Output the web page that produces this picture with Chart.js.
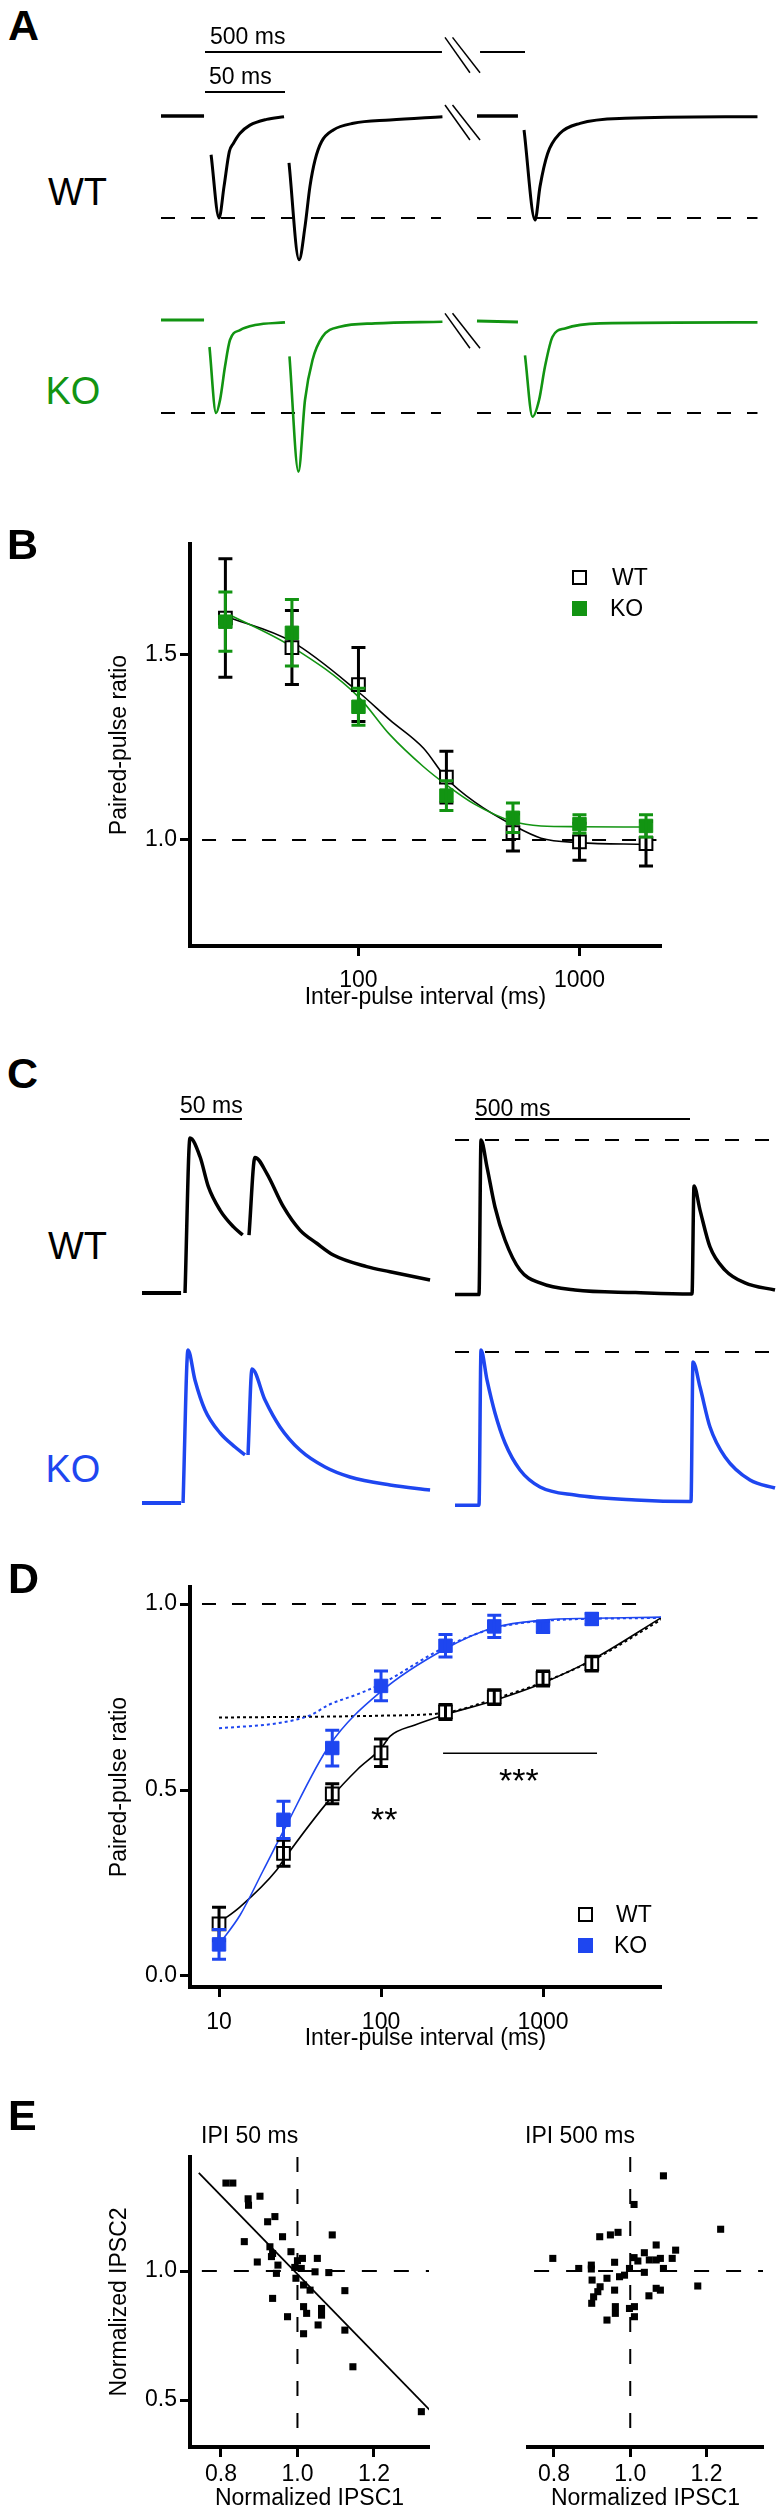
<!DOCTYPE html>
<html>
<head>
<meta charset="utf-8">
<script src="https://cdn.jsdelivr.net/npm/chart.js@4.4.1/dist/chart.umd.min.js"></script>
<style>
  body { margin: 0; background: #fff; }
  #page { position: relative; width: 780px; height: 2515px; overflow: hidden; background: #fff;
          font-family: 'Liberation Sans', Arial, sans-serif; color: #000; }
  canvas { position: absolute; }
  .t { position: absolute; line-height: 1; white-space: nowrap; }
  .sq { position: absolute; box-sizing: border-box; }
</style>
</head>
<body>
<div id="page">
  <canvas id="aWt" width="620" height="265" style="left:150px;top:20px"></canvas>
  <canvas id="aKo" width="620" height="200" style="left:150px;top:290px"></canvas>
  <canvas id="bPlot" width="780" height="500" style="left:0;top:520px"></canvas>
  <canvas id="cWtL" width="310" height="215" style="left:130px;top:1090px"></canvas>
  <canvas id="cWtR" width="335" height="215" style="left:445px;top:1090px"></canvas>
  <canvas id="cKoL" width="310" height="185" style="left:130px;top:1330px"></canvas>
  <canvas id="cKoR" width="335" height="185" style="left:445px;top:1330px"></canvas>
  <canvas id="dPlot" width="780" height="500" style="left:0;top:1560px"></canvas>
  <canvas id="eL" width="440" height="395" style="left:0;top:2120px"></canvas>
  <canvas id="eR" width="340" height="395" style="left:440px;top:2120px"></canvas>
</div>
<script>
"use strict";

var FONT = "'Liberation Sans', Arial, sans-serif";
var GREEN = '#129412';
var BLUE = '#1e46f0';

// ---- A: IPSC traces, [time ms (axis broken at ~185), current / first peak] ----
var aWtBase1 = [[0, 0], [26.9, 0]];
var aWtPulse1 = [[31.3, -0.38], [36.3, -1.0], [39.4, -0.69], [42.7, -0.35], [45.2, -0.27], [49.4, -0.17], [55.6, -0.09], [66, -0.033], [76.9, -0.007]];
var aWtPulse2 = [[80, -0.46], [86.3, -1.41], [90, -1.085], [93.1, -0.69], [96.3, -0.43], [100.4, -0.25], [107.7, -0.137], [120.2, -0.072], [143.1, -0.039], [175.9, -0.007]];
var aWtBase2 = [[197.5, 0], [223.1, 0]];
var aWtPulse3 = [[226.9, -0.137], [233.8, -1.02], [236.9, -0.69], [241.6, -0.37], [249.4, -0.17], [261.9, -0.072], [290, -0.023], [372.8, -0.007]];

var aKoBase1 = [[0, 0], [26.9, 0]];
var aKoPulse1 = [[30.3, -0.29], [34.4, -1.0], [36.9, -0.86], [40, -0.5], [43.1, -0.215], [49.4, -0.108], [58.8, -0.054], [77.5, -0.025]];
var aKoPulse2 = [[80.3, -0.39], [85.9, -1.63], [90, -0.86], [94.7, -0.43], [100.9, -0.18], [111.9, -0.072], [133.8, -0.036], [175.9, -0.018]];
var aKoBase2 = [[197.5, -0.01], [223.1, -0.02]];
var aKoPulse3 = [[227.5, -0.38], [232.2, -1.04], [236.3, -0.86], [240, -0.5], [244.7, -0.18], [252.5, -0.09], [274.4, -0.036], [372.8, -0.025]];

// ---- B: paired-pulse ratio ----
var ipiB = [25, 50, 100, 250, 500, 1000, 2000];
var wtB = [1.60, 1.52, 1.42, 1.17, 1.02, 0.995, 0.99];
var wtBErr = [0.16, 0.10, 0.10, 0.07, 0.05, 0.05, 0.06];
var koB = [1.59, 1.56, 1.36, 1.12, 1.06, 1.043, 1.038];
var koBErr = [0.08, 0.09, 0.05, 0.04, 0.04, 0.025, 0.03];
var fitBX = [25, 50, 100, 139, 197, 250, 335, 500, 670, 1000, 2000];
var wtBFit = [1.605, 1.536, 1.40, 1.324, 1.248, 1.167, 1.103, 1.04, 1.005, 0.993, 0.988];
var koBFit = [1.614, 1.522, 1.387, 1.284, 1.198, 1.149, 1.097, 1.05, 1.038, 1.036, 1.035];

// ---- C: IPSC traces, [time ms, current / first peak] ----
var cWtLBase = [[0, 0], [31.5, 0]];
var cWtL1 = [[34.7, 0], [38.7, 1.0], [46.8, 0.879], [53.5, 0.686], [62.9, 0.535], [73.6, 0.428], [81.2, 0.374]];
var cWtL2 = [[86.3, 0.374], [91.1, 0.875], [100.6, 0.772], [114, 0.557], [127.4, 0.406], [140.9, 0.321], [154.3, 0.245], [181.2, 0.17], [200, 0.137], [232.3, 0.084]];
var cWtR = [[0, -0.01], [53.5, -0.01], [55.8, -0.01], [60.5, 0.987], [74.4, 0.813], [93, 0.555], [116.3, 0.342], [151.2, 0.148], [197.7, 0.065], [279, 0.019], [420, 0.003], [548, -0.006], [551.2, -0.006], [555.8, 0.69], [569.8, 0.535], [593, 0.297], [628, 0.148], [674.4, 0.065], [744.2, 0.019]];
var cKoLBase = [[0, 0], [31.5, 0]];
var cKoL1 = [[33.1, 0], [37.1, 1.0], [42.7, 0.804], [50.8, 0.608], [62.9, 0.458], [75, 0.366], [83.1, 0.314]];
var cKoL2 = [[85.5, 0.314], [88.7, 0.876], [99.2, 0.673], [111.3, 0.497], [127.4, 0.346], [147.6, 0.235], [167.7, 0.17], [200, 0.118], [232.3, 0.085]];
var cKoR = [[0, -0.015], [53.5, -0.015], [55.8, -0.015], [60.5, 1.0], [74.4, 0.804], [93, 0.588], [116.3, 0.392], [151.2, 0.216], [197.7, 0.105], [279, 0.052], [420, 0.02], [546.5, 0.01], [548.8, 0.01], [553.5, 0.922], [569.8, 0.758], [593, 0.497], [628, 0.301], [686, 0.15], [744.2, 0.098]];

// ---- D: paired-pulse ratio ----
var ipiD = [10, 25, 50, 100, 250, 500, 1000, 2000];
var wtD = [0.14, 0.33, 0.49, 0.60, 0.71, 0.75, 0.80, 0.84];
var wtDErr = [0.045, 0.035, 0.027, 0.037, 0.02, 0.02, 0.02, 0.02];
var koD = [0.085, 0.42, 0.613, 0.78, 0.888, 0.94, 0.939, 0.96];
var koDErr = [0.04, 0.05, 0.048, 0.04, 0.03, 0.03, 0.015, 0.015];
var wtDFitX = [10, 13.5, 22.7, 25, 50, 71, 100, 114, 162, 250, 500, 1000, 2000, 5348];
var wtDFit = [0.143, 0.186, 0.285, 0.312, 0.483, 0.554, 0.612, 0.645, 0.675, 0.703, 0.741, 0.788, 0.85, 0.963];
var koDFitX = [10, 13.5, 18.8, 25, 48, 100, 250, 500, 1000, 2000, 5348];
var koDFit = [0.085, 0.164, 0.285, 0.39, 0.62, 0.765, 0.88, 0.937, 0.957, 0.962, 0.965];
var wtDDotX = [10, 100, 250, 500, 1000, 2000, 5348];
var wtDDot = [0.695, 0.70, 0.708, 0.745, 0.79, 0.848, 0.958];
var koDDotX = [10, 24, 37, 47, 74, 100, 250, 500, 1000, 5348];
var koDDot = [0.666, 0.681, 0.702, 0.728, 0.76, 0.785, 0.885, 0.935, 0.955, 0.963];

// ---- E: normalized IPSC2 vs IPSC1 ----
var e50x = [0.813, 0.831, 0.871, 0.872, 0.902, 0.941, 0.922, 0.961, 0.861, 1.091, 0.928, 0.935, 0.932, 0.895, 0.983, 0.949, 0.945, 0.993, 1.013, 1.01, 1.052, 1.046, 1.082, 0.996, 1.016, 1.033, 1.124, 0.935, 1.016, 1.024, 1.063, 1.063, 0.974, 1.054, 1.016, 1.124, 1.145, 1.324, 1.0];
var e50y = [1.341, 1.341, 1.28, 1.255, 1.29, 1.211, 1.191, 1.133, 1.114, 1.14, 1.094, 1.068, 1.056, 1.035, 1.075, 1.023, 0.991, 1.014, 1.049, 1.01, 1.049, 0.997, 0.994, 0.972, 0.946, 0.926, 0.924, 0.894, 0.862, 0.836, 0.855, 0.829, 0.823, 0.791, 0.757, 0.771, 0.629, 0.455, 1.04];
var e50FitX = [0.742, 1.346];
var e50FitY = [1.38, 0.461];
var e500x = [1.087, 1.01, 1.237, 0.92, 0.948, 0.968, 0.797, 0.865, 0.898, 0.898, 0.959, 1.01, 1.02, 1.037, 1.068, 1.119, 1.11, 1.05, 1.068, 1.079, 1.087, 1.037, 0.998, 0.985, 0.972, 0.9, 0.939, 0.921, 0.915, 0.959, 0.904, 0.899, 1.049, 1.068, 1.079, 1.177, 0.961, 0.961, 0.939, 0.998, 1.011, 1.011];
var e500y = [1.369, 1.258, 1.162, 1.133, 1.14, 1.15, 1.049, 1.01, 1.023, 1.008, 1.034, 1.052, 1.039, 1.071, 1.101, 1.081, 1.049, 1.043, 1.043, 1.049, 1.01, 0.995, 1.01, 0.984, 0.978, 0.965, 0.972, 0.939, 0.92, 0.926, 0.9, 0.875, 0.904, 0.933, 0.926, 0.942, 0.862, 0.836, 0.81, 0.855, 0.862, 0.823];

// tick labels
var bTicksX = [100, 1000];
var bTicksY = [1.0, 1.5];
var dTicksX = [10, 100, 1000];
var dTicksY = [0, 0.5, 1.0];
var eTicksX = [0.8, 1.0, 1.2];
var eTicksY = [0.5, 1.0];

// helpers
function pairs(p) { return p.map(function (q) { return {x: q[0], y: q[1]}; }); }
function pts(xs, ys) { return xs.map(function (x, i) { return {x: x, y: ys[i]}; }); }

function line(data, color, width, dash, smooth) {
    return {
        data: data, showLine: true, fill: false,
        borderColor: color, borderWidth: width, borderDash: dash || [],
        pointRadius: 0, pointHoverRadius: 0,
        cubicInterpolationMode: smooth ? 'monotone' : 'default'
    };
}

function marks(data, errs, color, fillColor, r, bw) {
    return {
        data: data, errors: errs, showLine: false,
        pointStyle: 'rect', pointRadius: r, pointHoverRadius: r,
        pointBackgroundColor: fillColor, pointBorderColor: color,
        pointBorderWidth: bw, borderColor: color
    };
}

// vertical error bars with caps, drawn with their dataset
var errorBars = {
    id: 'errorBars',
    afterDatasetDraw: function (chart, args) {
        var ds = chart.data.datasets[args.index];
        if (!ds.errors) return;
        var ctx = chart.ctx, xs = chart.scales.x, ys = chart.scales.y;
        ctx.save();
        ctx.strokeStyle = ds.pointBorderColor;
        ctx.lineWidth = 3;
        ds.data.forEach(function (p, i) {
            var px = xs.getPixelForValue(p.x);
            var top = ys.getPixelForValue(p.y + ds.errors[i]);
            var bot = ys.getPixelForValue(p.y - ds.errors[i]);
            ctx.beginPath();
            ctx.moveTo(px, top); ctx.lineTo(px, bot);
            ctx.moveTo(px - 7, top); ctx.lineTo(px + 7, top);
            ctx.moveTo(px - 7, bot); ctx.lineTo(px + 7, bot);
            ctx.stroke();
        });
        ctx.restore();
    }
};

function baseOptions(scales, padding) {
    return {
        responsive: false, animation: false, devicePixelRatio: 1, events: [],
        layout: {padding: padding},
        plugins: {legend: {display: false}, tooltip: {enabled: false}},
        scales: scales
    };
}

function traceChart(id, xr, yr, sets) {
    return new Chart(document.getElementById(id), {
        type: 'scatter',
        data: {datasets: sets},
        options: baseOptions({
            x: {type: 'linear', display: false, min: xr[0], max: xr[1]},
            y: {type: 'linear', display: false, min: yr[0], max: yr[1]}
        }, 0)
    });
}

function axisFont() { return {family: FONT, size: 23}; }
function fmt1(v) { return Number(v).toFixed(1); }
function fmtInt(v) { return String(v); }

function plotChart(id, o) {
    var scales = {
        x: {
            type: o.xType, min: o.xr[0], max: o.xr[1],
            afterFit: function (s) { s.height = o.xH; },
            afterBuildTicks: function (s) { s.ticks = o.xTicks.map(function (v) { return {value: v}; }); },
            border: {display: true, color: '#000', width: 4},
            grid: {drawOnChartArea: false, drawTicks: true, tickLength: 10, tickWidth: 3, tickColor: '#000'},
            ticks: {color: '#000', font: axisFont(), padding: o.xPad, maxRotation: 0, autoSkip: false, callback: o.xFmt},
            title: {display: true, text: o.xTitle, color: '#000', font: axisFont(), padding: {top: 0, bottom: o.xTitlePad}}
        }
    };
    if (o.yTitle) {
        scales.y = {
            type: 'linear', min: o.yr[0], max: o.yr[1],
            afterFit: function (s) { s.width = o.yW; },
            afterBuildTicks: function (s) { s.ticks = o.yTicks.map(function (v) { return {value: v}; }); },
            border: {display: true, color: '#000', width: 4},
            grid: {drawOnChartArea: false, drawTicks: true, tickLength: 10, tickWidth: 3, tickColor: '#000'},
            ticks: {color: '#000', font: axisFont(), padding: 3, autoSkip: false, callback: fmt1},
            title: {display: true, text: o.yTitle, color: '#000', font: axisFont(), padding: {top: 105.5, bottom: 0}}
        };
    } else {
        scales.y = {type: 'linear', display: false, min: o.yr[0], max: o.yr[1]};
    }
    return new Chart(document.getElementById(id), {
        type: 'scatter',
        data: {datasets: o.sets},
        options: baseOptions(scales, o.pad),
        plugins: [errorBars]
    });
}

// ---- panel A ----
var aDash = [14, 16];
traceChart('aWt', [-6.875, 380.625], [-1.657, 0.941], [
    line(pairs(aWtBase1), '#000', 3.5),
    line(pairs(aWtPulse1), '#000', 3, null, true),
    line(pairs(aWtPulse2), '#000', 3, null, true),
    line(pairs(aWtBase2), '#000', 3.5),
    line(pairs(aWtPulse3), '#000', 3, null, true),
    line(pairs([[0, -1], [175, -1]]), '#000', 2, aDash),
    line(pairs([[197.5, -1], [372.8, -1]]), '#000', 2, aDash),
    // scale bars: 50 ms and (broken) 500 ms
    line(pairs([[27.5, 0.235], [77.5, 0.235]]), '#000', 2),
    line(pairs([[27.5, 0.627], [175.6, 0.627]]), '#000', 2),
    line(pairs([[199.4, 0.627], [227.5, 0.627]]), '#000', 2),
    // axis break marks
    line(pairs([[177.5, 0.771], [193.1, 0.424]]), '#000', 1.5),
    line(pairs([[182.2, 0.771], [199.4, 0.424]]), '#000', 1.5),
    line(pairs([[177.5, 0.108], [193.1, -0.235]]), '#000', 1.5),
    line(pairs([[182.2, 0.108], [199.4, -0.235]]), '#000', 1.5)
]);
traceChart('aKo', [-6.875, 380.625], [-1.828, 0.323], [
    line(pairs(aKoBase1), GREEN, 3),
    line(pairs(aKoPulse1), GREEN, 2.6, null, true),
    line(pairs(aKoPulse2), GREEN, 2.6, null, true),
    line(pairs(aKoBase2), GREEN, 3),
    line(pairs(aKoPulse3), GREEN, 2.6, null, true),
    line(pairs([[0, -1], [175, -1]]), '#000', 2, aDash),
    line(pairs([[197.5, -1], [372.8, -1]]), '#000', 2, aDash),
    line(pairs([[177.5, 0.072], [193.1, -0.304]]), '#000', 1.5),
    line(pairs([[182.2, 0.072], [199.4, -0.304]]), '#000', 1.5)
]);

// ---- panel B ----
plotChart('bPlot', {
    xType: 'logarithmic', xr: [17.29, 2338], yr: [0.7135, 1.8],
    xTicks: bTicksX, yTicks: bTicksY, xFmt: fmtInt,
    xTitle: 'Inter-pulse interval (ms)', yTitle: 'Paired-pulse ratio',
    xH: 74, yW: 190, xPad: 11, xTitlePad: 9,
    pad: {left: 0, top: 24, right: 119, bottom: 0},
    sets: [
        marks(pts(ipiB, koB), koBErr, GREEN, GREEN, 9.5, 1),
        marks(pts(ipiB, wtB), wtBErr, '#000', '#fff', 9, 2),
        line(pts(fitBX, koBFit), GREEN, 1.6, null, true),
        line(pts(fitBX, wtBFit), '#000', 1.6, null, true),
        line(pts([19.6, 2230], [1, 1]), '#000', 2, [14, 16])
    ]
});

// ---- panel C ----
traceChart('cWtL', [-9.677, 240.32], [-0.0774, 1.3097], [
    line(pairs(cWtLBase), '#000', 4),
    line(pairs(cWtL1), '#000', 3.5, null, true),
    line(pairs(cWtL2), '#000', 3.5, null, true),
    line(pairs([[30.6, 1.123], [80.6, 1.123]]), '#000', 2)
]);
traceChart('cWtR', [-23.256, 755.81], [-0.0774, 1.3097], [
    line(pairs(cWtR), '#000', 3.5, null, true),
    line(pairs([[46.5, 1.123], [546.5, 1.123]]), '#000', 2),
    line(pairs([[0, 0.987], [748.8, 0.987]]), '#000', 2, [14, 16])
]);
traceChart('cKoL', [-9.677, 240.32], [-0.0784, 1.1307], [
    line(pairs(cKoLBase), BLUE, 4),
    line(pairs(cKoL1), BLUE, 3.5, null, true),
    line(pairs(cKoL2), BLUE, 3.5, null, true)
]);
traceChart('cKoR', [-23.256, 755.81], [-0.0784, 1.1307], [
    line(pairs(cKoR), BLUE, 3.5, null, true),
    line(pairs([[0, 0.987], [748.8, 0.987]]), '#000', 2, [14, 16])
]);

// ---- panel D ----
plotChart('dPlot', {
    xType: 'logarithmic', xr: [6.62, 5348], yr: [-0.0296, 1.046],
    xTicks: dTicksX, yTicks: dTicksY, xFmt: fmtInt,
    xTitle: 'Inter-pulse interval (ms)', yTitle: 'Paired-pulse ratio',
    xH: 73, yW: 190, xPad: 12, xTitlePad: 8,
    pad: {left: 0, top: 27, right: 119, bottom: 0},
    sets: [
        marks(pts(ipiD, koD), koDErr, BLUE, BLUE, 9.5, 1),
        marks(pts(ipiD, wtD), wtDErr, '#000', '#fff', 9, 2),
        line(pts(koDFitX, koDFit), BLUE, 1.6, null, true),
        line(pts(wtDFitX, wtDFit), '#000', 1.6, null, true),
        line(pts(koDDotX, koDDot), BLUE, 2, [3, 3], true),
        line(pts(wtDDotX, wtDDot), '#000', 2, [3, 3], true),
        line(pts([7.85, 4570], [1, 1]), '#000', 2, [14, 16]),
        line(pts([241.5, 2154], [0.599, 0.599]), '#000', 1.6)
    ]
});

// ---- panel E ----
plotChart('eL', {
    xType: 'linear', xr: [0.719, 1.344], yr: [0.318, 1.442],
    xTicks: eTicksX, yTicks: eTicksY, xFmt: fmt1,
    xTitle: 'Normalized IPSC1', yTitle: 'Normalized IPSC2',
    xH: 68, yW: 190, xPad: 4, xTitlePad: 3,
    pad: {left: 0, top: 37, right: 11, bottom: 0},
    sets: [
        marks(pts(e50x, e50y), null, '#000', '#000', 5, 0),
        line(pts(e50FitX, e50FitY), '#000', 1.8),
        line(pts([0.75, 1.346], [1, 1]), '#000', 2, [15, 17]),
        line(pts([1, 1], [1.442, 0.345]), '#000', 2, [15, 17])
    ]
});
plotChart('eR', {
    xType: 'linear', xr: [0.732, 1.348], yr: [0.318, 1.442],
    xTicks: eTicksX, xFmt: fmt1,
    xTitle: 'Normalized IPSC1',
    xH: 68, xPad: 4, xTitlePad: 3,
    pad: {left: 88, top: 37, right: 17, bottom: 0},
    sets: [
        marks(pts(e500x, e500y), null, '#000', '#000', 5, 0),
        line(pts([0.748, 1.348], [1, 1]), '#000', 2, [15, 17]),
        line(pts([1, 1], [1.442, 0.337]), '#000', 2, [15, 17])
    ]
});

// ---- text & legends ----
var page = document.getElementById('page');

function label(text, x, capTop, size, extra) {
    var d = document.createElement('div');
    d.className = 't';
    d.textContent = text;
    d.style.left = x + 'px';
    d.style.top = (capTop - 0.13 * size) + 'px';
    d.style.fontSize = size + 'px';
    if (extra) Object.assign(d.style, extra);
    page.appendChild(d);
}

function square(cx, cy, filled, color) {
    var s = document.createElement('div');
    s.className = 'sq';
    s.style.left = (cx - 7.5) + 'px';
    s.style.top = (cy - 7.5) + 'px';
    s.style.width = '15px';
    s.style.height = '15px';
    s.style.background = filled ? color : '#fff';
    s.style.border = filled ? 'none' : '2px solid ' + color;
    page.appendChild(s);
}

var bold = {fontWeight: 'bold'};
label('A', 8, 10, 43, bold);
label('B', 7, 529, 43, bold);
label('C', 7, 1058, 43, bold);
label('D', 8, 1563, 43, bold);
label('E', 8, 2100, 43, bold);

label('500 ms', 210, 28.3, 23);
label('50 ms', 209, 68.3, 23);
label('WT', 48, 178, 38);
label('KO', 45.5, 376.7, 38, {color: GREEN});

label('50 ms', 180, 1096.7, 23);
label('500 ms', 475, 1100, 23);
label('WT', 48, 1231.7, 38);
label('KO', 45.5, 1455, 38, {color: BLUE});

square(579, 577, false, '#000');
square(579, 608, true, GREEN);
label('WT', 612, 568.8, 23);
label('KO', 610, 599.8, 23);

square(585, 1914, false, '#000');
square(585, 1945, true, BLUE);
label('WT', 616, 1905.8, 23);
label('KO', 614, 1936.8, 23);
label('**', 371, 1806, 34);
label('***', 499, 1767, 34);

label('IPI 50 ms', 201, 2126.7, 23);
label('IPI 500 ms', 525, 2126.7, 23);
</script>
</body>
</html>
